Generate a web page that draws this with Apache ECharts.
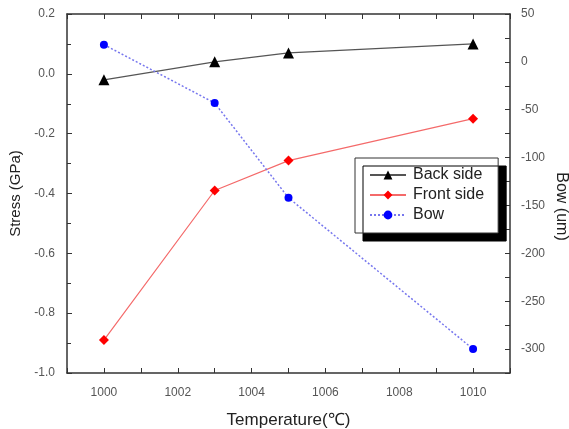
<!DOCTYPE html>
<html>
<head>
<meta charset="utf-8">
<script src="https://cdn.jsdelivr.net/npm/echarts@6/dist/echarts.min.js"></script>
<style>
html,body{margin:0;padding:0;background:#fff;}
#chart{width:569px;height:429px;}
</style>
</head>
<body>
<div id="chart"></div>
<script>
var temperatures = [1000, 1003, 1005, 1010];
var backSide = [-0.02, 0.04, 0.07, 0.10];
var frontSide = [-0.89, -0.39, -0.29, -0.15];
var bow = [18, -43, -142, -300];

function pairs(xs, ys) { return xs.map(function (x, i) { return [x, ys[i]]; }); }

var axisColor = '#333';
var labelColor = '#555';
var font = 'Liberation Sans, Arial, sans-serif';

var chart = echarts.init(document.getElementById('chart'), null, {renderer: 'canvas'});
chart.setOption({
  animation: false,
  backgroundColor: '#fff',
  grid: {left: 67, right: 59, top: 14, bottom: 56, containLabel: false, outerBoundsMode: 'none'},
  legend: {
    orient: 'vertical',
    left: 355, top: 158,
    padding: [9, 14, 10, 14],
    itemGap: 4,
    itemWidth: 36, itemHeight: 11,
    backgroundColor: '#fff',
    borderColor: '#333', borderWidth: 1,
    shadowColor: '#000', shadowBlur: 0, shadowOffsetX: 8, shadowOffsetY: 8,
    textStyle: {fontFamily: font, fontSize: 16, color: '#222', padding: [0, 0, 0, 2]},
    data: ['Back side', 'Front side', 'Bow']
  },
  xAxis: [{
    type: 'value', position: 'bottom', min: 999, max: 1011, interval: 1,
    name: 'Temperature(℃)', nameLocation: 'middle', nameGap: 39,
    nameTextStyle: {fontFamily: font, fontSize: 17, color: '#222'},
    axisLine: {onZero: false, lineStyle: {color: axisColor, width: 1.5}},
    axisTick: {inside: true, length: 5, lineStyle: {color: axisColor}},
    axisLabel: {fontFamily: font, fontSize: 12, color: labelColor, margin: 14,
      formatter: function (v) { return v % 2 === 0 ? String(v) : ''; }},
    splitLine: {show: false}
  }, {
    type: 'value', position: 'top', min: 999, max: 1011, interval: 1,
    axisLine: {onZero: false, lineStyle: {color: axisColor, width: 1.5}},
    axisTick: {inside: true, length: 5, lineStyle: {color: axisColor}},
    axisLabel: {show: false},
    splitLine: {show: false}
  }],
  yAxis: [{
    type: 'value', position: 'left', min: -1.0, max: 0.2, interval: 0.2,
    name: 'Stress (GPa)', nameLocation: 'middle', nameGap: 42,
    nameTextStyle: {fontFamily: font, fontSize: 15, color: '#222'},
    axisLine: {show: true, onZero: false, lineStyle: {color: axisColor, width: 1.5}},
    axisTick: {inside: true, length: 5, lineStyle: {color: axisColor}},
    minorTick: {show: true, splitNumber: 2, length: 4, lineStyle: {color: axisColor}},
    axisLabel: {fontFamily: font, fontSize: 12, color: labelColor, margin: 12,
      formatter: function (v) { return v.toFixed(1); }},
    splitLine: {show: false}
  }, {
    type: 'value', position: 'right', min: -325, max: 50, interval: 25,
    name: 'Bow (um)', nameLocation: 'middle', nameGap: 43, nameRotate: -90,
    nameMoveOverlap: false,
    nameTextStyle: {fontFamily: font, fontSize: 16, color: '#222', padding: [0, 0, 0, 26]},
    axisLine: {show: true, onZero: false, lineStyle: {color: axisColor, width: 1.5}},
    axisTick: {inside: true, length: 5, lineStyle: {color: axisColor}},
    axisLabel: {fontFamily: font, fontSize: 12, color: labelColor, margin: 11,
      formatter: function (v) { return v % 50 === 0 ? String(v) : ''; }},
    splitLine: {show: false}
  }],
  series: [{
    name: 'Back side', type: 'line', xAxisIndex: 0, yAxisIndex: 0,
    data: pairs(temperatures, backSide),
    symbol: 'triangle', symbolSize: 11,
    lineStyle: {color: '#555', width: 1.2},
    itemStyle: {color: '#000'}
  }, {
    name: 'Front side', type: 'line', xAxisIndex: 0, yAxisIndex: 0,
    data: pairs(temperatures, frontSide),
    symbol: 'diamond', symbolSize: 10,
    lineStyle: {color: '#f46a6a', width: 1.2},
    itemStyle: {color: '#f00'}
  }, {
    name: 'Bow', type: 'line', xAxisIndex: 0, yAxisIndex: 1,
    data: pairs(temperatures, bow),
    symbol: 'circle', symbolSize: 8,
    lineStyle: {color: '#7777ee', width: 1.5, type: [2, 2]},
    itemStyle: {color: '#0000ff'}
  }]
});
</script>
</body>
</html>
